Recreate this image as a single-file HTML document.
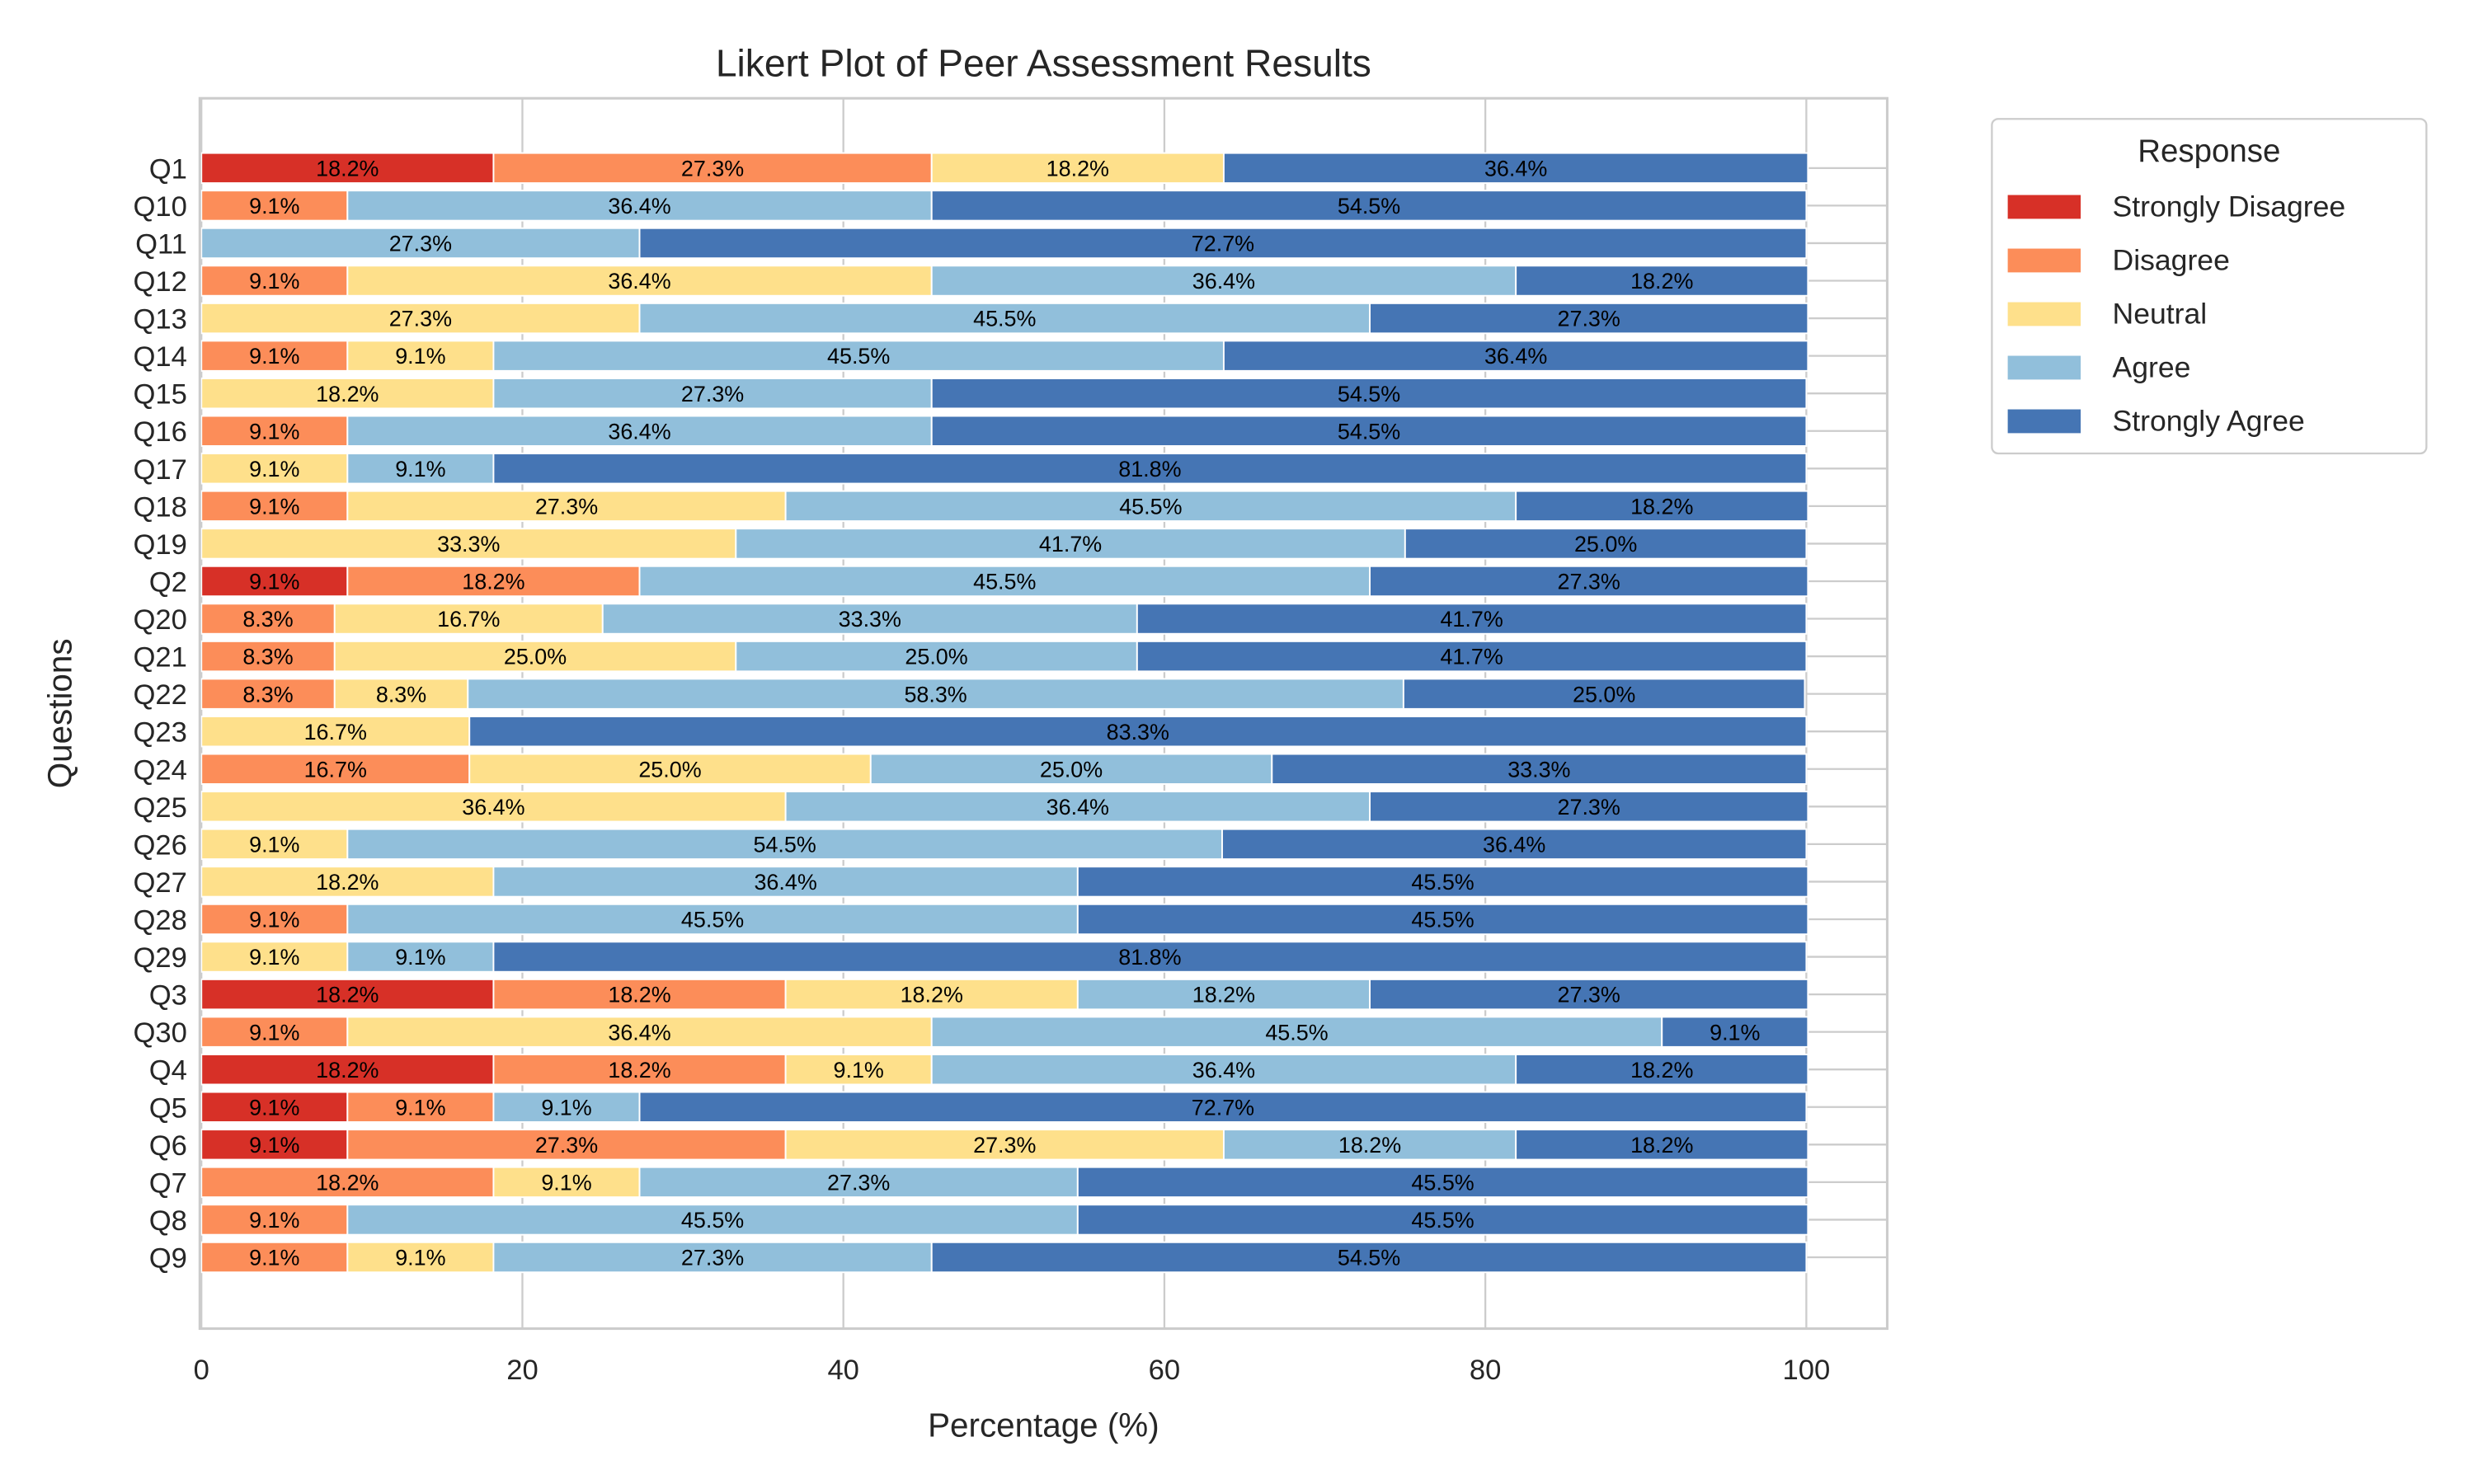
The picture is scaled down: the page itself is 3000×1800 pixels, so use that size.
<!DOCTYPE html>
<html><head><meta charset="utf-8">
<style>html,body{margin:0;padding:0;background:#fff}svg{display:block}text{font-family:"Liberation Sans",sans-serif}</style>
</head><body>
<svg id="chart" width="3000" height="1800" viewBox="0 0 1560 936" xmlns="http://www.w3.org/2000/svg">
<rect width="1560" height="936" fill="#fff"/>
<text x="658" y="48" font-size="24" text-anchor="middle" fill="#262626">Likert Plot of Peer Assessment Results</text>
<g id="grid"></g><g id="bars"></g><g id="axes"></g>
<text x="658" y="906" font-size="21" text-anchor="middle" fill="#262626">Percentage (%)</text>
<text transform="translate(45,450) rotate(-90)" font-size="21" text-anchor="middle" fill="#262626">Questions</text>
<g>
<rect x="1256" y="75" width="274" height="211" rx="4" fill="#fff" stroke="#ccc" stroke-width="1.2"/>
<text x="1393" y="102" font-size="20" text-anchor="middle" fill="#262626">Response</text>
<g id="legend-items"></g>
</g>
</svg>
<script>
const questions=["Q1","Q10","Q11","Q12","Q13","Q14","Q15","Q16","Q17","Q18","Q19","Q2","Q20","Q21","Q22","Q23","Q24","Q25","Q26","Q27","Q28","Q29","Q3","Q30","Q4","Q5","Q6","Q7","Q8","Q9"];
const responses=["Strongly Disagree","Disagree","Neutral","Agree","Strongly Agree"];
const stronglyDisagree=[18.2,0,0,0,0,0,0,0,0,0,0,9.1,0,0,0,0,0,0,0,0,0,0,18.2,0,18.2,9.1,9.1,0,0,0];
const disagree=[27.3,9.1,0,9.1,0,9.1,0,9.1,0,9.1,0,18.2,8.3,8.3,8.3,0,16.7,0,0,0,9.1,0,18.2,9.1,18.2,9.1,27.3,18.2,9.1,9.1];
const neutral=[18.2,0,0,36.4,27.3,9.1,18.2,0,9.1,27.3,33.3,0,16.7,25.0,8.3,16.7,25.0,36.4,9.1,18.2,0,9.1,18.2,36.4,9.1,0,27.3,9.1,0,9.1];
const agree=[0,36.4,27.3,36.4,45.5,45.5,27.3,36.4,9.1,45.5,41.7,45.5,33.3,25.0,58.3,0,25.0,36.4,54.5,36.4,45.5,9.1,18.2,45.5,36.4,9.1,18.2,27.3,45.5,27.3];
const stronglyAgree=[36.4,54.5,72.7,18.2,27.3,36.4,54.5,54.5,81.8,18.2,25.0,27.3,41.7,41.7,25.0,83.3,33.3,27.3,36.4,45.5,45.5,81.8,27.3,9.1,18.2,72.7,18.2,45.5,45.5,54.5];
const xTicks=[0,20,40,60,80,100];
const colors=["#d73027","#fc8d59","#fee08b","#91bfdb","#4575b4"];
const series=[stronglyDisagree,disagree,neutral,agree,stronglyAgree];
const NS="http://www.w3.org/2000/svg";
const L=126,R=1190,T=62,B=838;
const xs=v=>127+v*10.12;
const pitch=(793-106)/(questions.length-1);
const ys=i=>106+i*pitch;
function mk(tag,attrs,parent,txt){const e=document.createElementNS(NS,tag);for(const k in attrs)e.setAttribute(k,attrs[k]);if(txt!==undefined)e.textContent=txt;parent.appendChild(e);return e;}
const grid=document.getElementById('grid'),bars=document.getElementById('bars'),axes=document.getElementById('axes');
xTicks.forEach(t=>{
 const l=mk('line',{x1:xs(t),x2:xs(t),y1:T,y2:B,stroke:'#cccccc','stroke-width':1.2},grid);
 
 
 const tx=mk('text',{x:xs(t),y:B+32,'font-size':18,'text-anchor':'middle',fill:'#262626'},axes,String(t));
 
 
});
questions.forEach((q,i)=>{
 const l=mk('line',{x1:L,x2:R,y1:ys(i),y2:ys(i),stroke:'#cccccc','stroke-width':1.2},grid);
 
 
 const tx=mk('text',{x:118,y:ys(i)+6.5,'font-size':18,'text-anchor':'end',fill:'#262626'},axes,q);
 
 
 let acc=0;
 series.forEach((s,k)=>{
  const v=s[i];
  if(v>0){
   const h=pitch*0.8;
   const r=mk('rect',{x:xs(acc),y:ys(i)-h/2,width:xs(acc+v)-xs(acc),height:h,fill:colors[k],stroke:'#fff','stroke-width':1},bars);
   
   
   const t=mk('text',{x:(xs(acc)+xs(acc+v))/2,y:ys(i)+5,'font-size':14,'text-anchor':'middle',fill:'#000'},bars,v.toFixed(1)+'%');
   
   
  }
  acc+=v;
 });
});
const sp=mk('rect',{x:L,y:T,width:R-L,height:B-T,fill:'none',stroke:'#cccccc','stroke-width':1.6},axes);


const lg=document.getElementById('legend-items');
responses.forEach((r,k)=>{
 const y=130+k*33.8;
 const p=mk('rect',{x:1266,y:y-7,width:46,height:15,fill:colors[k]},lg);
 
 
 const t=mk('text',{x:1332,y:y+6.5,'font-size':18.5,fill:'#262626'},lg,r);
 
 
});
</script>
</body></html>
